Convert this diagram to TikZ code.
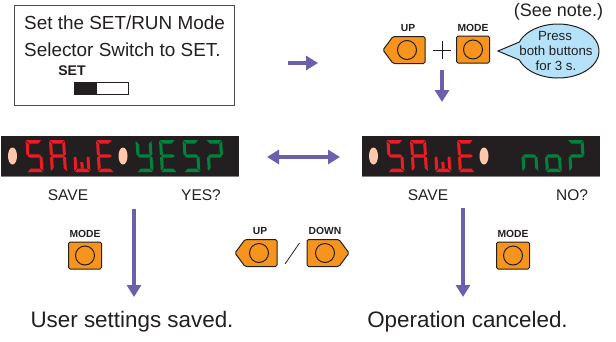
\documentclass[tikz,border=0pt]{standalone}
\usepackage{xcolor}
\usepackage{fontspec}
\usepackage{tikz}
\usetikzlibrary{arrows.meta}
\setmainfont{Liberation Sans}

\definecolor{inkblack}{HTML}{231F20}
\definecolor{btnorange}{HTML}{F7941D}
\definecolor{arrowpurple}{HTML}{6A60AC}
\definecolor{ledred}{HTML}{ED1C24}
\definecolor{ledgreen}{HTML}{00843D}
\definecolor{lamppink}{HTML}{FFC8AC}
\definecolor{noteblue}{HTML}{B5E2F8}

\tikzset{
	flowarrow/.style={arrowpurple,line width=4pt,-{Triangle[length=12pt,width=14pt]}},
	botharrow/.style={arrowpurple,line width=3.5pt,{Triangle[length=12pt,width=14pt]}-{Triangle[length=12pt,width=14pt]}},
	btnbody/.style={draw=inkblack,fill=btnorange,line width=1pt,rounded corners=1.5pt},
	btnlabel/.style={font=\bfseries\fontsize{10.3}{10}\selectfont,text=inkblack,inner sep=0pt},
	bigtext/.style={font=\fontsize{18.9}{19}\selectfont,text=inkblack,inner sep=0pt},
	endtext/.style={font=\fontsize{22.4}{23}\selectfont,text=inkblack,inner sep=0pt},
	smalltext/.style={font=\fontsize{15.5}{16}\selectfont,text=inkblack,inner sep=0pt},
	notetext/.style={font=\fontsize{13.3}{14}\selectfont,text=inkblack,inner sep=0pt},
}

% segments of one display digit, 16 wide and 32 high
\def\sega{(1,0) -- (16,0) -- (13,3.5) -- (4,3.5) -- cycle}
\def\segb{(16.5,1) -- (16.5,14.5) -- (14.5,15.5) -- (13.5,14) -- (13.5,4) -- cycle}
\def\segc{(16.5,17.5) -- (16.5,31) -- (13.5,28) -- (13.5,18) -- (14.5,16.5) -- cycle}
\def\segd{(1,32) -- (16,32) -- (13,28.5) -- (4,28.5) -- cycle}
\def\sege{(0.5,17.5) -- (0.5,31) -- (3.5,28) -- (3.5,18) -- (2.5,16.5) -- cycle}
\def\segf{(0.5,1) -- (0.5,14.5) -- (2.5,15.5) -- (3.5,14) -- (3.5,4) -- cycle}
\def\segg{(1.5,16) -- (4,14.3) -- (13,14.3) -- (15.5,16) -- (13,17.7) -- (4,17.7) -- cycle}
\def\segh{(7,28.5) -- (10,28.5) -- (10,22) -- (7,22) -- cycle}

\newcommand{\leddigit}[4]{%
	\begin{scope}[shift={(#1,#2)},xslant=-0.06]
		\foreach \s in {#4} {\fill[#3] \csname seg\s\endcsname;}
	\end{scope}}

\newcommand{\displaybar}[2]{%
	\fill[inkblack] (#1,136) rectangle (#1+238,176);
	\draw[gray,line width=0.7pt] (#1,176) -- (#1+238,176);
	\fill[lamppink] (#1+11.5,156) ellipse (4.5 and 8.5);
	\fill[lamppink] (#1+122,156) ellipse (4.5 and 8.5);
	\leddigit{#1+24}{140}{ledred}{a,f,g,c,d}
	\leddigit{#1+47.5}{140}{ledred}{a,b,c,e,f,g}
	\leddigit{#1+71}{140}{ledred}{c,d,e,h}
	\leddigit{#1+94.5}{140}{ledred}{a,f,g,e,d}
}

\newcommand{\modebtn}[4]{%
	\draw[btnbody] (#2-16.5,#3-13.5) rectangle (#2+16.5,#3+13.5);
	\draw[inkblack,line width=1pt] (#2,#3) circle (9.5);
	\node[btnlabel] (#1) at (#2,#3-21.5) {#4};
}
\newcommand{\upbtn}[3]{%
	\draw[btnbody] (#2-24,#3) -- (#2-14,#3-13.5) -- (#2+18,#3-13.5) -- (#2+18,#3+13.5) -- (#2-14,#3+13.5) -- cycle;
	\draw[inkblack,line width=1pt] (#2,#3) circle (9.5);
	\node[btnlabel] (#1) at (#2+1,#3-22) {UP};
}
\newcommand{\downbtn}[3]{%
	\draw[btnbody] (#2+24,#3) -- (#2+14,#3-13.5) -- (#2-18,#3-13.5) -- (#2-18,#3+13.5) -- (#2+14,#3+13.5) -- cycle;
	\draw[inkblack,line width=1pt] (#2,#3) circle (9.5);
	\node[btnlabel] (#1) at (#2,#3-22) {DOWN};
}

\begin{document}
\begin{tikzpicture}[x=1pt,y=-1pt]
	\useasboundingbox (0,0) rectangle (616,341);

	% selector switch box
	\draw[inkblack!80,line width=1pt] (14,5.5) rectangle (234,105);
	\node[bigtext,anchor=west] (setline) at (24,23) {Set the SET/RUN Mode};
	\node[bigtext,anchor=west] (selectline) at (24,50) {Selector Switch to SET.};
	\node[font=\bfseries\fontsize{14}{14}\selectfont,text=inkblack,inner sep=0pt] (setlabel) at (72,71) {SET};
	\draw[inkblack,fill=white,line width=0.8pt] (74,82) rectangle (128,94.5);
	\fill[inkblack] (74,82) rectangle (97,94.5);

	% buttons at the top
	\upbtn{uplabel}{407}{50}
	\draw[inkblack,line width=0.8pt] (433,50) -- (451,50);
	\draw[inkblack,line width=0.8pt] (442,41) -- (442,59);
	\modebtn{modelabel}{473}{49.5}{MODE}

	% note balloon
	\draw[inkblack,fill=noteblue,line width=1pt] (498,51) -- (519.4,42) arc[start angle=199.5,end angle=520.5,x radius=41,y radius=27] -- cycle;
	\node[notetext] (presstext) at (555,36) {Press};
	\node[notetext] (bothtext) at (556,51) {both buttons};
	\node[notetext] (fortext) at (556,66) {for 3 s.};
	\node[font=\fontsize{18}{18}\selectfont,text=inkblack,inner sep=0pt] (seenote) at (558.5,12) {(See note.)};

	% displays
	\displaybar{1}{0}
	\leddigit{135}{140}{ledgreen}{f,b,g,c,d}
	\leddigit{158.5}{140}{ledgreen}{a,f,g,e,d}
	\leddigit{182}{140}{ledgreen}{a,f,g,c,d}
	\leddigit{205.5}{140}{ledgreen}{a,b,g,e}
	\displaybar{362}{0}
	\leddigit{520}{140}{ledgreen}{e,g,c}
	\leddigit{543.5}{140}{ledgreen}{g,c,d,e}
	\leddigit{567}{140}{ledgreen}{a,b,g,e}

	\node[smalltext] (saveleft) at (68,195) {SAVE};
	\node[smalltext] (yestext) at (201,195) {YES?};
	\node[smalltext] (saveright) at (428,195) {SAVE};
	\node[smalltext] (notext) at (572,195) {NO?};

	% lower buttons
	\modebtn{modeleft}{85}{255.5}{MODE}
	\upbtn{upmid}{259}{253}
	\draw[inkblack,line width=0.8pt] (285,264) -- (299.5,243);
	\downbtn{downmid}{325}{253}
	\modebtn{moderight}{513}{255.5}{MODE}

	\node[endtext] (savedtext) at (132,322) {User settings saved.};
	\node[endtext] (canceltext) at (467.5,322) {Operation canceled.};

	% arrows
	\coordinate (a1) at (288,63);
	\coordinate (a2) at (318,63);
	\coordinate (b1) at (442,70);
	\coordinate (b2) at (442,102);
	\coordinate (c1) at (267,157);
	\coordinate (c2) at (340,157);
	\coordinate (d1) at (134,209);
	\coordinate (d2) at (134,297);
	\coordinate (e1) at (463,208);
	\coordinate (e2) at (463,297);
	\draw[flowarrow] (a1) -- (a2);
	\draw[flowarrow] (b1) -- (b2);
	\draw[botharrow] (c1) -- (c2);
	\draw[flowarrow] (d1) -- (d2);
	\draw[flowarrow] (e1) -- (e2);
\end{tikzpicture}
\end{document}
